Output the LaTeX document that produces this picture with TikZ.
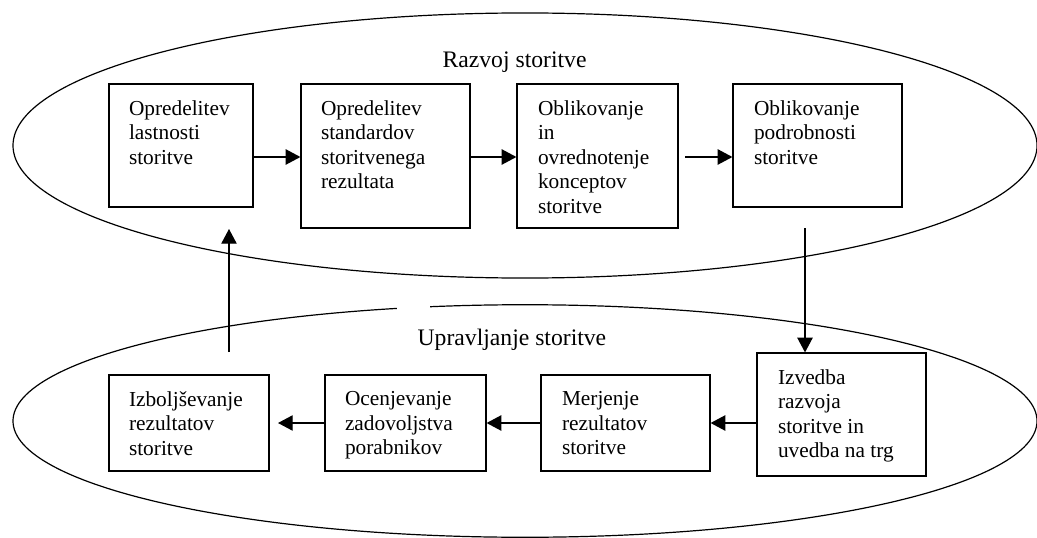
\documentclass[tikz,border=0pt]{standalone}
\usepackage{fontspec}
\setmainfont{Liberation Serif}
\usetikzlibrary{arrows.meta,fit}
\begin{document}
\begin{tikzpicture}[x=0.75pt,y=-0.75pt,
  line width=0.9pt,
  box/.style={draw,rectangle,inner sep=0pt,fit={#1}},
  txt/.style={inner sep=0pt,align=left,anchor=north west,font=\fontsize{16}{18.4}\selectfont},
  lab/.style={inner sep=0pt,anchor=base west,font=\fontsize{17.75}{20}\selectfont},
  arr/.style={-{Triangle[length=11pt,width=11.5pt]}}]
\useasboundingbox (0,0) rectangle (1037,538);
% ellipses
\draw (525,145.5) ellipse [x radius=384pt, y radius=99.4pt];
\draw (525,421) ellipse [x radius=384pt, y radius=87.2pt];
\fill[white] (397,299) rectangle (430,311);
% labels
\node[lab] (l1) at (442,68) {Razvoj storitve};
\node[lab] (l2) at (417,345) {Upravljanje storitve};
% top boxes
\node[box={(109,84) (253,207)}] (b1) {};
\node[box={(301,84) (470,228)}] (b2) {};
\node[box={(517,84) (678,228)}] (b3) {};
\node[box={(733,84) (902,207)}] (b4) {};
% bottom boxes
\node[box={(109,375) (269,471)}] (b5) {};
\node[box={(325,375) (486,471)}] (b6) {};
\node[box={(541,375) (710,471)}] (b7) {};
\node[box={(757,353) (926,476)}] (b8) {};
% texts
\node[txt] (t1) at ([shift={(20,16.4)}]b1.north west) {Opredelitev\\lastnosti\\storitve};
\node[txt] (t2) at ([shift={(20,16.4)}]b2.north west) {Opredelitev\\standardov\\storitvenega\\rezultata};
\node[txt] (t3) at ([shift={(21,16.4)}]b3.north west) {Oblikovanje\\in\\ovrednotenje\\konceptov\\storitve};
\node[txt] (t4) at ([shift={(21,16.4)}]b4.north west) {Oblikovanje\\podrobnosti\\storitve};
\node[txt] (t5) at ([shift={(20,16.4)}]b5.north west) {Izboljševanje\\rezultatov\\storitve};
\node[txt] (t6) at ([shift={(20,16.4)}]b6.north west) {Ocenjevanje\\zadovoljstva\\porabnikov};
\node[txt] (t7) at ([shift={(21,16.4)}]b7.north west) {Merjenje\\rezultatov\\storitve};
\node[txt] (t8) at ([shift={(21,16.4)}]b8.north west) {Izvedba\\razvoja\\storitve in\\uvedba na trg};
% top arrows
\coordinate (ya) at (0,157);
\draw[arr] (b1.east |- ya) -- (b2.west |- ya);
\draw[arr] (b2.east |- ya) -- (b3.west |- ya);
\coordinate (s3) at (685,157);
\draw[arr] (s3) -- (b4.west |- ya);
% vertical arrows
\coordinate (d0) at (805,228);
\draw[arr] (d0) -- (d0 |- b8.north);
\coordinate (u0) at (229,352);
\coordinate (u1) at (229,229);
\draw[arr] (u0) -- (u1);
% bottom arrows
\draw[arr] (b8.west |- b7.east) -- (b7.east);
\draw[arr] (b7.west) -- (b6.east);
\coordinate (e5) at (278,423);
\draw[arr] (b6.west) -- (e5);
\end{tikzpicture}
\end{document}
